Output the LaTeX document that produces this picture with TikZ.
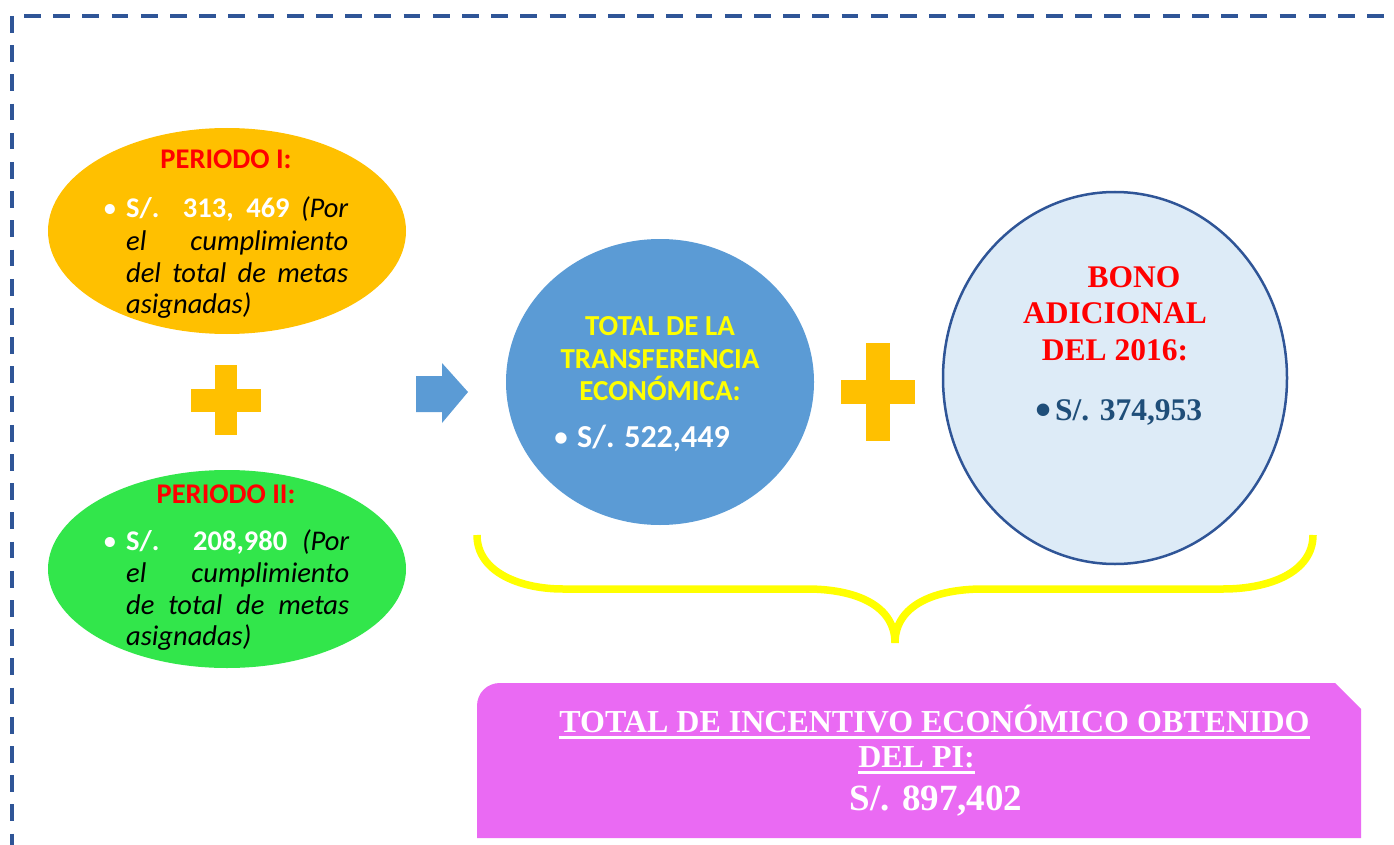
\documentclass[tikz,border=0pt]{standalone}
\usepackage{fontspec}
\setmainfont{Carlito}
\newfontfamily\tnr{Liberation Serif}
\usetikzlibrary{shapes.geometric}
\definecolor{dashblue}{HTML}{2F5597}
\definecolor{gold}{HTML}{FFC000}
\definecolor{lgreen}{HTML}{32E64B}
\definecolor{midblue}{HTML}{5B9BD5}
\definecolor{paleblue}{HTML}{DDEBF7}
\definecolor{navyblue}{HTML}{1F4E79}
\definecolor{pinkbox}{HTML}{EA6AF3}
\definecolor{byellow}{HTML}{FFFF00}
\definecolor{pred}{HTML}{FF0000}
\begin{document}
\begin{tikzpicture}[x=1pt,y=-1pt,
  blob/.style={ellipse, inner sep=0pt, draw=none},
  txt/.style={inner sep=0pt, anchor=base},
  ltxt/.style={inner sep=0pt, anchor=base west},
  pertext/.style={font=\fontsize{28.5}{32}\selectfont},
  pertitle/.style={font=\fontsize{28.5}{32}\selectfont\bfseries, text=pred},
  tottitle/.style={font=\fontsize{29}{33}\selectfont\bfseries, text=byellow},
  bonotitle/.style={font=\tnr\bfseries\fontsize{31.5}{36}\selectfont, text=pred},
  pinktext/.style={font=\tnr\bfseries\fontsize{32}{36}\selectfont, text=white},
  border/.style={draw=dashblue, line width=3.8pt, dash pattern=on 16.7pt off 12.5pt},
  plusfill/.style={fill=gold},
  uline/.style={draw=white, line width=3pt}
]
\useasboundingbox (0,0) rectangle (1394,845);

% dashed frame
\coordinate (ftl) at (24,16);
\coordinate (ftr) at (1394,16);
\coordinate (fl1) at (12,16);
\coordinate (fl2) at (12,845);
\draw[border] (ftl) -- (ftr);
\draw[border] (fl1) -- (fl2);

% Periodo I
\node[blob, fill=gold, minimum width=358pt, minimum height=206pt] (p1) at (227,231) {};
\node[txt, pertitle] (p1t) at (226,169) {PERIODO I:};
\node[txt, pertext, text=white] (p1b) at (110,217) {•};
\node[ltxt, pertext] (p1l1) at (126,217) {\makebox[222pt][s]{\bfseries\color{white}S/. 313, 469 \mdseries\itshape\color{black}(Por}};
\node[ltxt, pertext] (p1l2) at (126,250) {\makebox[222pt][s]{\itshape el cumplimiento}};
\node[ltxt, pertext] (p1l3) at (126,282) {\makebox[222pt][s]{\itshape del total de metas}};
\node[ltxt, pertext] (p1l4) at (126,313) {\itshape asignadas)};

% plus 1
\fill[plusfill] (215,365) rectangle (237,435);
\fill[plusfill] (191,389) rectangle (261,412);

% Periodo II
\node[blob, fill=lgreen, minimum width=358pt, minimum height=198pt] (p2) at (227,569) {};
\node[txt, pertitle] (p2t) at (226,503) {PERIODO II:};
\node[txt, pertext, text=white] (p2b) at (110,550) {•};
\node[ltxt, pertext] (p2l1) at (126,550) {\makebox[223pt][s]{\bfseries\color{white}S/. 208,980 \mdseries\itshape\color{black}(Por}};
\node[ltxt, pertext] (p2l2) at (126,582) {\makebox[223pt][s]{\itshape el cumplimiento}};
\node[ltxt, pertext] (p2l3) at (126,614) {\makebox[223pt][s]{\itshape de total de metas}};
\node[ltxt, pertext] (p2l4) at (126,645) {\itshape asignadas)};

% arrow
\fill[midblue] (416,376) -- (442,376) -- (442,363) -- (468,392) -- (442,423) -- (442,412) -- (416,412) -- cycle;

% total transferencia
\node[blob, fill=midblue, minimum width=308pt, minimum height=286pt] (tt) at (660,382) {};
\node[txt, tottitle] (tt1) at (660,335) {TOTAL DE LA};
\node[txt, tottitle] (tt2) at (660,368) {TRANSFERENCIA};
\node[txt, tottitle] (tt3) at (660,400) {ECONÓMICA:};
\node[txt, font=\fontsize{32}{36}\selectfont, text=white] (ttb) at (561,447) {•};
\node[ltxt, font=\fontsize{32}{36}\selectfont\bfseries, text=white] (ttv) at (577,447) {S/. 522,449};

% plus 2
\fill[plusfill] (866,343) rectangle (890,441);
\fill[plusfill] (841,380) rectangle (915,404);

% bono
\node[blob, fill=paleblue, draw=dashblue, line width=2.5pt, minimum width=344pt, minimum height=372pt] (bono) at (1115,378) {};
\node[txt, bonotitle] (bo1) at (1134,287) {BONO};
\node[txt, bonotitle] (bo2) at (1115,323) {ADICIONAL};
\node[txt, bonotitle] (bo3) at (1115,360) {DEL 2016:};
\node[txt, font=\tnr\bfseries\fontsize{46}{50}\selectfont, text=navyblue] (bob) at (1044,425) {•};
\node[ltxt, font=\tnr\bfseries\fontsize{31.5}{36}\selectfont, text=navyblue] (bov) at (1055,420) {S/. 374,953};

% brace
\coordinate (brl) at (477,535);
\coordinate (brr) at (1313,535);
\coordinate (brtip) at (895,643);
\draw[byellow, line width=7.5pt] (brl) .. controls (477,572) and (520,589) .. (563,589) -- (807,589)
  .. controls (855,589) and (895,605) .. (brtip)
  .. controls (895,605) and (935,589) .. (983,589) -- (1223,589)
  .. controls (1270,589) and (1313,572) .. (brr);

% pink box
\fill[pinkbox] (477,838) -- (477,706) .. controls (477,693) and (487,683) .. (500,683) -- (1335,683) -- (1361,709) -- (1361,838) -- cycle;
\node[txt, pinktext] (pk1) at (934.5,732) {TOTAL DE INCENTIVO ECONÓMICO OBTENIDO};
\draw[uline] ([yshift=-5pt]pk1.base west) -- ([yshift=-5pt]pk1.base east);
\node[txt, pinktext] (pk2) at (916.5,767) {DEL PI:};
\draw[uline] ([yshift=-5pt]pk2.base west) -- ([yshift=-5pt]pk2.base east);
\node[txt, font=\tnr\bfseries\fontsize{37}{40}\selectfont, text=white] (pk3) at (936,810) {S/. 897,402};
\end{tikzpicture}
\end{document}
